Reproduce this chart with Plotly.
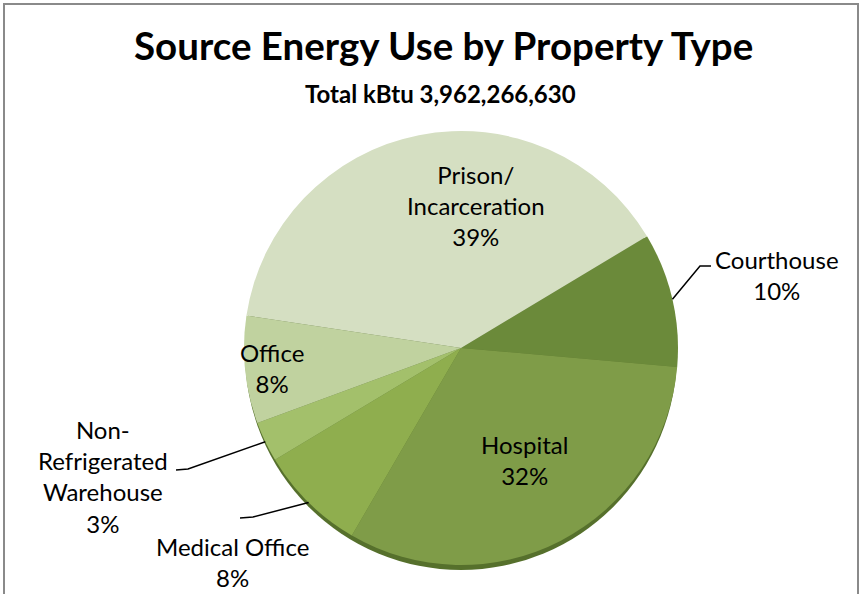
import math
import plotly.graph_objects as go

# ---- data ----
categories = ["Courthouse", "Hospital", "Medical Office", "Non-Refrigerated Warehouse", "Office", "Prison/Incarceration"]
label_text = ["Courthouse<br>10%", "Hospital<br>32%", "Medical Office<br>8%", "Non-<br>Refrigerated<br>Warehouse<br>3%", "Office<br>8%", "Prison/<br>Incarceration<br>39%"]
percent_values = [10, 32, 8, 3, 8, 39]
colors = ["#6b8a3a", "#7f9c48", "#8fae4e", "#a3c06b", "#c0d29f", "#d5dfc2"]

title_text = "Source Energy Use by Property Type"
subtitle_text = "Total kBtu 3,962,266,630"

W, H = 864, 594
CX, CY, R = 461, 348, 217
ROTATION = 59

def px(x):
    return x / W

def py(y):
    return 1 - y / H

fig = go.Figure()
fig.add_trace(go.Pie(
    labels=categories,
    values=percent_values,
    marker=dict(colors=colors, line=dict(width=0)),
    sort=False,
    direction="clockwise",
    rotation=ROTATION,
    textinfo="none",
    hoverinfo="label+percent",
    showlegend=False,
    domain=dict(x=[px(CX - R), px(CX + R)], y=[py(CY + R), py(CY - R)]),
))

# mid-angles of slices (clockwise from 12 o'clock)
total = sum(percent_values)
mids = []
acc = 0
for v in percent_values:
    mids.append(ROTATION + 360 * (acc + v / 2) / total)
    acc += v

def polar(angle, rad):
    a = math.radians(angle)
    return CX + rad * math.sin(a), CY - rad * math.cos(a)

FONT = "Lato"
LSIZE = 24
annotations = []
shapes = []

# inside labels
inside_pos = {1: (524, 460), 4: (272, 368), 5: (476, 206)}
for i, (x, y) in inside_pos.items():
    annotations.append(dict(x=px(x), y=py(y), xref="paper", yref="paper", text=label_text[i],
                            showarrow=False, font=dict(family=FONT, size=LSIZE, color="black"),
                            xanchor="center", yanchor="middle"))

# outside labels: index -> (label center, elbow point, end point)
outside = {
    0: ((777, 275), (700, 266), (711, 266)),
    2: ((232, 562), (253, 517), (240, 518)),
    3: ((103, 476), (188, 469), (176, 470)),
}
for i, (lab, elbow, end) in outside.items():
    annotations.append(dict(x=px(lab[0]), y=py(lab[1]), xref="paper", yref="paper", text=label_text[i],
                            showarrow=False, font=dict(family=FONT, size=LSIZE, color="black"),
                            xanchor="center", yanchor="middle"))
    ex, ey = polar(mids[i], R)
    path = "M {} {} L {} {} L {} {}".format(px(ex), py(ey), px(elbow[0]), py(elbow[1]), px(end[0]), py(end[1]))
    shapes.append(dict(type="path", path=path, xref="paper", yref="paper",
                       line=dict(color="black", width=1.5)))

# title and subtitle
annotations.append(dict(x=px(443), y=py(45), xref="paper", yref="paper", text="<b>" + title_text + "</b>",
                        showarrow=False, font=dict(family=FONT, size=38.5, color="black"),
                        xanchor="center", yanchor="middle"))
annotations.append(dict(x=px(441), y=py(93), xref="paper", yref="paper", text="<b>" + subtitle_text + "</b>",
                        showarrow=False, font=dict(family=FONT, size=24, color="black"),
                        xanchor="center", yanchor="middle"))

# 3D-like dark rim under pie
shapes.append(dict(type="circle", xref="paper", yref="paper", layer="below",
                   x0=px(CX - R + 1), x1=px(CX + R - 1), y0=py(CY + R + 5), y1=py(CY - R + 5),
                   fillcolor="#56702c", line=dict(width=0)))

# chart frame
shapes.append(dict(type="rect", xref="paper", yref="paper", x0=px(4), x1=px(858), y0=py(610), y1=py(4),
                   line=dict(color="#8a8a8a", width=2), fillcolor="rgba(0,0,0,0)"))

fig.update_layout(
    width=W, height=H,
    margin=dict(l=0, r=0, t=0, b=0),
    paper_bgcolor="white",
    plot_bgcolor="white",
    annotations=annotations,
    shapes=shapes,
)

fig.write_html("out.html", config={"displayModeBar": False},
               post_script="document.body.style.margin='0';document.body.style.overflow='hidden';")
